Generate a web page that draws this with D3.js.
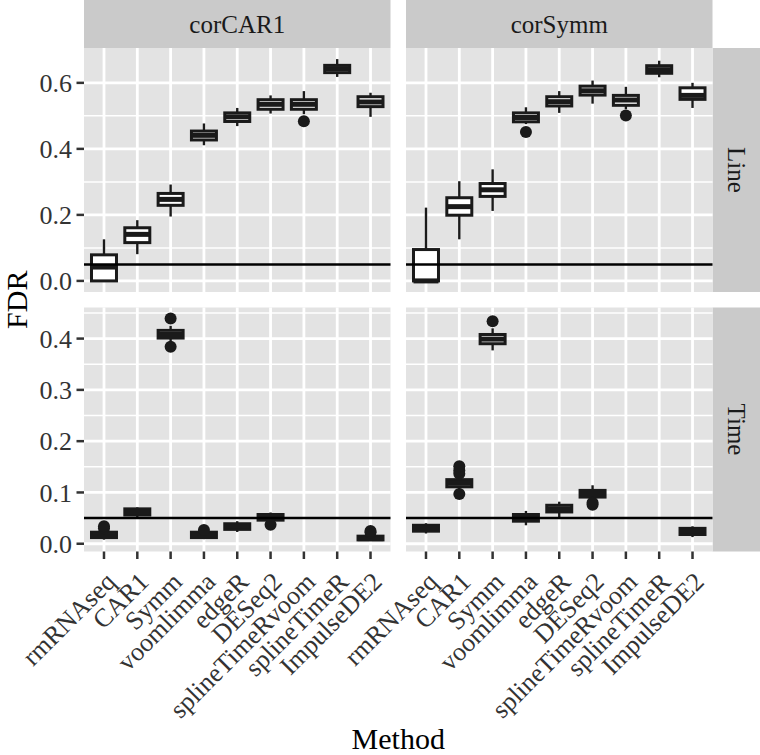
<!DOCTYPE html>
<html>
<head>
<meta charset="utf-8">
<script src="https://cdn.jsdelivr.net/npm/d3@7"></script>
<style>
  html, body { margin: 0; padding: 0; background: #fff; }
  svg { display: block; }
  text { font-family: "Liberation Serif", "DejaVu Serif", serif; }
</style>
</head>
<body>
<script>
// ---------------- data ----------------
const methods = ["rmRNAseq", "CAR1", "Symm", "voomlimma", "edgeR", "DESeq2", "splineTimeRvoom", "splineTimeR", "ImpulseDE2"];
const structures = ["corCAR1", "corSymm"];
const effects = ["Line", "Time"];
const yTicksLine = [0.0, 0.2, 0.4, 0.6];
const yTicksTime = [0.0, 0.1, 0.2, 0.3, 0.4];
const yMinorLine = [0.1, 0.3, 0.5];
const yMinorTime = [0.05, 0.15, 0.25, 0.35, 0.45];
const fdrTarget = 0.05;

// box stats per method: [lower whisker, Q1, median, Q3, upper whisker]
const lineCorCAR1 = [
  [0.000, 0.000, 0.042, 0.079, 0.126],
  [0.081, 0.116, 0.141, 0.161, 0.184],
  [0.195, 0.229, 0.247, 0.265, 0.292],
  [0.411, 0.427, 0.441, 0.454, 0.477],
  [0.469, 0.483, 0.497, 0.509, 0.524],
  [0.507, 0.520, 0.535, 0.549, 0.562],
  [0.505, 0.520, 0.535, 0.549, 0.575],
  [0.618, 0.631, 0.643, 0.653, 0.672],
  [0.497, 0.528, 0.542, 0.558, 0.570]
];
const lineCorCAR1Out = [[], [], [], [], [], [], [0.484], [], []];

const lineCorSymm = [
  [0.000, 0.000, 0.000, 0.095, 0.222],
  [0.126, 0.199, 0.225, 0.252, 0.302],
  [0.212, 0.256, 0.276, 0.295, 0.338],
  [0.475, 0.482, 0.495, 0.509, 0.526],
  [0.509, 0.530, 0.543, 0.558, 0.575],
  [0.537, 0.563, 0.576, 0.590, 0.607],
  [0.520, 0.532, 0.548, 0.562, 0.588],
  [0.617, 0.629, 0.640, 0.652, 0.667],
  [0.524, 0.550, 0.562, 0.585, 0.600]
];
const lineCorSymmOut = [[], [], [], [0.451], [], [], [0.501], [], []];

const timeCorCAR1 = [
  [0.008, 0.012, 0.016, 0.0225, 0.026],
  [0.052, 0.056, 0.062, 0.068, 0.071],
  [0.393, 0.401, 0.408, 0.416, 0.425],
  [0.009, 0.012, 0.017, 0.0225, 0.024],
  [0.023, 0.028, 0.034, 0.039, 0.044],
  [0.042, 0.046, 0.052, 0.057, 0.061],
  null,
  null,
  [0.0065, 0.0075, 0.010, 0.0148, 0.017]
];
const timeCorCAR1Out = [[0.030, 0.034], [], [0.384, 0.439], [0.027], [], [0.037], [], [], [0.022, 0.025]];

const timeCorSymm = [
  [0.020, 0.0245, 0.030, 0.036, 0.040],
  [0.105, 0.111, 0.118, 0.125, 0.130],
  [0.377, 0.390, 0.399, 0.408, 0.420],
  [0.036, 0.044, 0.051, 0.057, 0.064],
  [0.050, 0.062, 0.068, 0.075, 0.082],
  [0.085, 0.091, 0.098, 0.104, 0.114],
  null,
  null,
  [0.013, 0.018, 0.024, 0.030, 0.034]
];
const timeCorSymmOut = [[], [0.097, 0.1365, 0.143, 0.151], [0.434], [], [], [0.076, 0.080], [], [], []];

const panelStats = { Line: [lineCorCAR1, lineCorSymm], Time: [timeCorCAR1, timeCorSymm] };
const panelOut = { Line: [lineCorCAR1Out, lineCorSymmOut], Time: [timeCorCAR1Out, timeCorSymmOut] };
const panelTicks = { Line: yTicksLine, Time: yTicksTime };
const panelMinor = { Line: yMinorLine, Time: yMinorTime };

// ---------------- layout ----------------
const W = 760, H = 755;
const plotLeft = 84, plotTop = 48, stripH = 48, stripW = 48;
const panelW = 306.5, panelH = 244, gap = 15.5;
const colX = [plotLeft, plotLeft + panelW + gap];
const rowY = [plotTop, plotTop + panelH + gap];

const panelBg = "#E3E3E3", stripBg = "#CACACA", ink = "#1A1A1A", tickInk = "#333333";

const svg = d3.select("body").append("svg").attr("width", W).attr("height", H);

const x = d3.scalePoint().domain(methods).range([0, panelW]).padding(0.6);
const boxW = x.step() * 0.75;

// y scales per row (shared across columns), 5% expansion
const yScales = {};
effects.forEach((eff, r) => {
  const vals = [];
  panelStats[eff].forEach(ps => ps.forEach(s => { if (s) vals.push(...s); }));
  panelOut[eff].forEach(po => po.forEach(o => vals.push(...o)));
  const [lo, hi] = d3.extent(vals);
  const pad = (hi - lo) * 0.05;
  yScales[eff] = d3.scaleLinear().domain([lo - pad, hi + pad]).range([rowY[r] + panelH, rowY[r]]);
});

// column strips
structures.forEach((s, c) => {
  const g = svg.append("g").attr("transform", `translate(${colX[c]},0)`);
  g.append("rect").attr("width", panelW).attr("height", stripH).attr("fill", stripBg);
  g.append("text").attr("x", panelW / 2).attr("y", stripH / 2).attr("dy", "0.35em")
    .attr("text-anchor", "middle").attr("font-size", 25).attr("fill", ink).text(s);
});

// row strips
effects.forEach((eff, r) => {
  const sx = colX[1] + panelW;
  const g = svg.append("g");
  g.append("rect").attr("x", sx).attr("y", rowY[r]).attr("width", stripW).attr("height", panelH).attr("fill", stripBg);
  g.append("text").attr("transform", `translate(${sx + stripW / 2},${rowY[r] + panelH / 2}) rotate(90)`)
    .attr("dy", "0.35em").attr("text-anchor", "middle").attr("font-size", 25).attr("fill", ink).text(eff);
});

// panels
effects.forEach((eff, r) => {
  const y = yScales[eff];
  structures.forEach((s, c) => {
    const g = svg.append("g").attr("transform", `translate(${colX[c]},0)`);
    g.append("rect").attr("x", 0).attr("y", rowY[r]).attr("width", panelW).attr("height", panelH).attr("fill", panelBg);
    // minor grid
    g.selectAll(".minor").data(panelMinor[eff].filter(v => y(v) >= rowY[r] && y(v) <= rowY[r] + panelH))
      .join("line").attr("x1", 0).attr("x2", panelW).attr("y1", d => y(d)).attr("y2", d => y(d))
      .attr("stroke", "#fff").attr("stroke-width", 1.5);
    // major grid
    g.selectAll(".majorY").data(panelTicks[eff]).join("line")
      .attr("x1", 0).attr("x2", panelW).attr("y1", d => y(d)).attr("y2", d => y(d))
      .attr("stroke", "#fff").attr("stroke-width", 2.8);
    g.selectAll(".majorX").data(methods).join("line")
      .attr("x1", d => x(d)).attr("x2", d => x(d)).attr("y1", rowY[r]).attr("y2", rowY[r] + panelH)
      .attr("stroke", "#fff").attr("stroke-width", 2.8);

    const stats = panelStats[eff][c];
    const outs = panelOut[eff][c];
    methods.forEach((m, i) => {
      const st = stats[i];
      const cx = x(m);
      if (st) {
        const [lw, q1, md, q3, uw] = st;
        g.append("line").attr("x1", cx).attr("x2", cx).attr("y1", y(q3)).attr("y2", y(uw))
          .attr("stroke", ink).attr("stroke-width", 2.4);
        g.append("line").attr("x1", cx).attr("x2", cx).attr("y1", y(q1)).attr("y2", y(lw))
          .attr("stroke", ink).attr("stroke-width", 2.4);
        g.append("rect").attr("x", cx - boxW / 2).attr("y", y(q3)).attr("width", boxW)
          .attr("height", Math.max(0, y(q1) - y(q3)))
          .attr("fill", "#fff").attr("stroke", ink).attr("stroke-width", 3);
        g.append("line").attr("x1", cx - boxW / 2).attr("x2", cx + boxW / 2).attr("y1", y(md)).attr("y2", y(md))
          .attr("stroke", ink).attr("stroke-width", 5);
      }
      g.selectAll(null).data(outs[i]).join("circle")
        .attr("cx", cx).attr("cy", d => y(d)).attr("r", 6).attr("fill", ink);
    });

    // reference line
    g.append("line").attr("x1", 0).attr("x2", panelW).attr("y1", y(fdrTarget)).attr("y2", y(fdrTarget))
      .attr("stroke", "#000").attr("stroke-width", 2.5);

    // y axis on first column
    if (c === 0) {
      const ax = svg.append("g");
      ax.selectAll("line").data(panelTicks[eff]).join("line")
        .attr("x1", plotLeft - 7.5).attr("x2", plotLeft).attr("y1", d => y(d)).attr("y2", d => y(d))
        .attr("stroke", "#333").attr("stroke-width", 2.5);
      ax.selectAll("text").data(panelTicks[eff]).join("text")
        .attr("x", plotLeft - 12).attr("y", d => y(d)).attr("dy", "0.35em")
        .attr("text-anchor", "end").attr("font-size", 26).attr("fill", tickInk)
        .text(d => d3.format(".1f")(d));
    }
    // x axis on bottom row
    if (r === 1) {
      const base = rowY[r] + panelH;
      g.selectAll(".xt").data(methods).join("line")
        .attr("x1", d => x(d)).attr("x2", d => x(d)).attr("y1", base).attr("y2", base + 7.5)
        .attr("stroke", "#333").attr("stroke-width", 2.5);
      g.selectAll(".xl").data(methods).join("text")
        .attr("transform", d => `translate(${x(d)},${base + 19}) rotate(-45)`)
        .attr("dy", "0.7em").attr("text-anchor", "end").attr("font-size", 26).attr("fill", tickInk)
        .text(d => d);
    }
  });
});

// axis titles
svg.append("text").attr("x", plotLeft + (2 * panelW + gap) / 2).attr("y", 749)
  .attr("text-anchor", "middle").attr("font-size", 30).attr("fill", "#000").text("Method");
svg.append("text").attr("transform", `translate(27,${(rowY[0] + rowY[1] + panelH) / 2}) rotate(-90)`)
  .attr("text-anchor", "middle").attr("font-size", 30).attr("fill", "#000").text("FDR");
</script>
</body>
</html>
